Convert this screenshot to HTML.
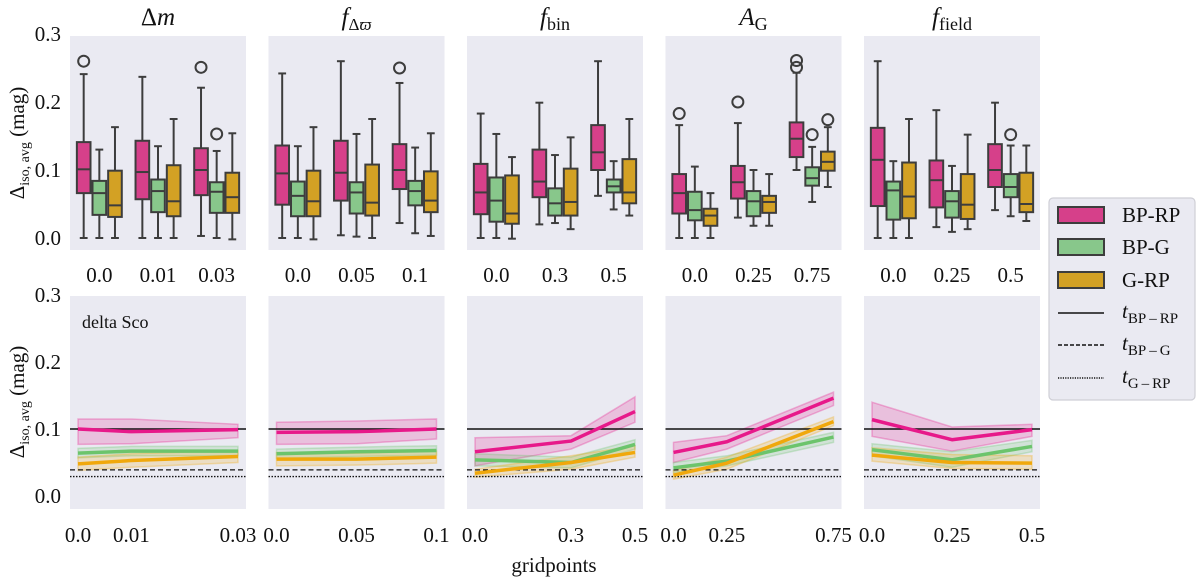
<!DOCTYPE html>
<html><head><meta charset="utf-8"><style>
html,body{margin:0;padding:0;background:#fff;}
svg{display:block;font-family:"Liberation Serif",serif;}
</style></head><body>
<svg id="chart" width="1200" height="580" viewBox="0 0 1200 580" xmlns="http://www.w3.org/2000/svg"></svg>
<script>
// ---- data ----
const seriesNames = ["BP-RP","BP-G","G-RP"];
const panelTitles = ["dm","fdp","fbin","ag","ffield"];
const boxCats = [["0.0","0.01","0.03"],["0.0","0.05","0.1"],["0.0","0.3","0.5"],["0.0","0.25","0.75"],["0.0","0.25","0.5"]];
// [low, q1, median, q3, high] per group per series
const boxDm = [[[0,0.066,0.101,0.141,0.241],[0,0.034,0.066,0.084,0.13],[0,0.031,0.048,0.099,0.163]],
               [[0,0.057,0.097,0.143,0.237],[0,0.038,0.069,0.086,0.135],[0,0.032,0.054,0.107,0.175]],
               [[0.003,0.063,0.1,0.132,0.221],[0,0.037,0.068,0.082,0.128],[-0.002,0.037,0.06,0.096,0.154]]];
const boxFdp = [[[0,0.049,0.095,0.136,0.242],[0,0.032,0.062,0.083,0.135],[-0.002,0.032,0.054,0.099,0.163]],
                [[0.004,0.055,0.096,0.143,0.26],[0.002,0.036,0.067,0.082,0.153],[0,0.033,0.052,0.108,0.175]],
                [[0.022,0.072,0.1,0.138,0.228],[0.007,0.048,0.069,0.084,0.133],[0.003,0.038,0.055,0.098,0.154]]];
const boxFbin = [[[0,0.035,0.067,0.109,0.183],[0,0.024,0.055,0.089,0.153],[-0.001,0.021,0.036,0.092,0.119]],
                 [[0.02,0.06,0.083,0.13,0.199],[0.022,0.033,0.051,0.073,0.122],[0.013,0.033,0.053,0.102,0.148]],
                 [[0.062,0.1,0.126,0.166,0.26],[0.042,0.067,0.076,0.086,0.113],[0.033,0.051,0.067,0.116,0.175]]];
const boxAg = [[[0,0.036,0.066,0.094,0.166],[0,0.026,0.041,0.068,0.105],[0,0.018,0.033,0.043,0.066]],
               [[0.03,0.058,0.082,0.106,0.169],[0.018,0.032,0.054,0.069,0.1],[0.018,0.037,0.053,0.062,0.094]],
               [[0.1,0.119,0.146,0.17,0.243],[0.053,0.077,0.088,0.104,0.134],[0.075,0.099,0.112,0.127,0.163]]];
const boxFfield = [[[0,0.047,0.115,0.162,0.26],[0,0.027,0.07,0.083,0.113],[0,0.029,0.061,0.111,0.175]],
                   [[0.016,0.045,0.085,0.114,0.188],[0.009,0.03,0.054,0.069,0.106],[0.013,0.028,0.049,0.094,0.152]],
                   [[0.041,0.075,0.1,0.138,0.199],[0.032,0.06,0.075,0.094,0.136],[0.025,0.038,0.05,0.096,0.136]]];
// outliers: [panel, group, series, value]
const outliers = [[0,0,0,0.26],[0,2,0,0.251],[0,2,1,0.153],[1,2,0,0.25],[3,0,0,0.183],[3,1,0,0.2],
                  [3,2,0,0.251],[3,2,0,0.261],[3,2,1,0.152],[3,2,2,0.174],[4,2,1,0.152]];
// bottom line panels
const lineX = [[0,0.01,0.03],[0,0.05,0.1],[0,0.3,0.5],[0,0.25,0.75],[0,0.25,0.5]];
const lineBPRP = [[0.1,0.096,0.099],[0.095,0.096,0.1],[0.066,0.082,0.126],[0.065,0.081,0.146],[0.114,0.084,0.099]];
const lineBPG  = [[0.064,0.067,0.067],[0.063,0.066,0.068],[0.054,0.05,0.077],[0.042,0.052,0.088],[0.069,0.054,0.074]];
const lineGRP  = [[0.048,0.053,0.059],[0.055,0.055,0.058],[0.034,0.05,0.065],[0.031,0.049,0.111],[0.061,0.05,0.049]];
const bandBPRPlo = [[0.077,0.078,0.087],[0.077,0.078,0.085],[0.045,0.07,0.11],[0.05,0.07,0.135],[0.089,0.067,0.089]];
const bandBPRPhi = [[0.115,0.115,0.107],[0.11,0.112,0.115],[0.087,0.09,0.148],[0.08,0.09,0.155],[0.14,0.103,0.107]];
const bandBPGlo = [[0.057,0.06,0.06],[0.056,0.059,0.061],[0.045,0.042,0.07],[0.035,0.045,0.08],[0.06,0.043,0.066]];
const bandBPGhi = [[0.071,0.074,0.074],[0.07,0.073,0.075],[0.063,0.058,0.084],[0.05,0.06,0.095],[0.078,0.066,0.083]];
const bandGRPlo = [[0.038,0.043,0.05],[0.045,0.046,0.049],[0.028,0.04,0.058],[0.025,0.04,0.105],[0.052,0.041,0.04]];
const bandGRPhi = [[0.058,0.063,0.068],[0.065,0.064,0.067],[0.04,0.06,0.075],[0.038,0.058,0.118],[0.072,0.062,0.06]];
const thresholds = [0.1,0.039,0.029];
const yTicks = [0.0,0.1,0.2,0.3];

// ---- layout ----
const NS="http://www.w3.org/2000/svg";
const svg=document.getElementById('chart');
const boxFill=["#d6408a","#88c78b","#d3a124"];
const lineCol=["#e7198a","#6cc46c","#f0a80c"];
const P_X0=70, P_PITCH=198.5, P_W=176;
const TOP={y0:36,y1:250,zero:238,scale:680};
const BOT={y0:296,y1:509,zero:496,scale:670};
const FS=21;
function mk(tag,attrs,parent){const e=document.createElementNS(NS,tag);for(const k in attrs)e.setAttribute(k,attrs[k]);(parent||svg).appendChild(e);return e;}
function yTop(v){return TOP.zero-v*TOP.scale;}
function yBot(v){return BOT.zero-v*BOT.scale;}
const boxData=[boxDm,boxFdp,boxFbin,boxAg,boxFfield];

const titles=[
 '<tspan>Δ</tspan><tspan font-style="italic">m</tspan>',
 '<tspan font-style="italic">f</tspan><tspan font-size="17" dy="5">Δ</tspan><tspan font-size="17" font-style="italic">ϖ</tspan>',
 '<tspan font-style="italic">f</tspan><tspan font-size="18" dy="5">bin</tspan>',
 '<tspan font-style="italic">A</tspan><tspan font-size="18" dy="5">G</tspan>',
 '<tspan font-style="italic">f</tspan><tspan font-size="18" dy="5">field</tspan>'];

for(let p=0;p<5;p++){
  const x0=P_X0+p*P_PITCH;
  const bgT=mk('rect',{x:x0,y:TOP.y0,width:P_W,height:TOP.y1-TOP.y0,fill:"#eaeaf2"});
  
  
  const t=mk('text',{x:x0+P_W/2,y:25,'text-anchor':'middle','font-size':25,fill:'#111'});
  t.innerHTML=titles[p];
  
  
  const catW=P_W/3, bw=catW*0.8/3;
  for(let g=0;g<3;g++){
    const cx=x0+catW*(g+0.5);
    const lab=mk('text',{x:cx,y:282,'text-anchor':'middle','font-size':FS,fill:'#111'});
    lab.textContent=boxCats[p][g];
    
    
    for(let s=0;s<3;s++){
      const st=boxData[p][g][s];
      const bx=cx+(s-1)*bw;
      const grp=mk('g',{});
      
      
      mk('line',{x1:bx,x2:bx,y1:yTop(st[0]),y2:yTop(st[1]),stroke:'#3d3d3d','stroke-width':2},grp);
      mk('line',{x1:bx,x2:bx,y1:yTop(st[3]),y2:yTop(st[4]),stroke:'#3d3d3d','stroke-width':2},grp);
      mk('line',{x1:bx-bw/4,x2:bx+bw/4,y1:yTop(st[0]),y2:yTop(st[0]),stroke:'#3d3d3d','stroke-width':2},grp);
      mk('line',{x1:bx-bw/4,x2:bx+bw/4,y1:yTop(st[4]),y2:yTop(st[4]),stroke:'#3d3d3d','stroke-width':2},grp);
      mk('rect',{x:bx-bw/2+1,y:yTop(st[3]),width:bw-2,height:yTop(st[1])-yTop(st[3]),fill:boxFill[s],stroke:'#3d3d3d','stroke-width':2},grp);
      mk('line',{x1:bx-bw/2+1,x2:bx+bw/2-1,y1:yTop(st[2]),y2:yTop(st[2]),stroke:'#3d3d3d','stroke-width':2},grp);
    }
  }
  const bgB=mk('rect',{x:x0,y:BOT.y0,width:P_W,height:BOT.y1-BOT.y0,fill:"#eaeaf2"});
  
  
  const xs=lineX[p], xmin=xs[0], xmax=xs[xs.length-1], pad=(xmax-xmin)*0.05;
  const xf=v=>x0+(v-(xmin-pad))/((xmax+pad)-(xmin-pad))*P_W;
  xs.forEach((v,i)=>{
    const lab=mk('text',{x:xf(v),y:542,'text-anchor':'middle','font-size':FS,fill:'#111'});
    lab.textContent=boxCats[p][i];
    
    
  });
  const lines=[lineBPRP,lineBPG,lineGRP], los=[bandBPRPlo,bandBPGlo,bandGRPlo], his=[bandBPRPhi,bandBPGhi,bandGRPhi];
  for(let s=0;s<3;s++){
    let d='';
    xs.forEach((v,i)=>{d+=(i?'L':'M')+xf(v)+' '+yBot(his[s][p][i]);});
    for(let i=xs.length-1;i>=0;i--) d+='L'+xf(xs[i])+' '+yBot(los[s][p][i]);
    const band=mk('path',{d:d+'Z',fill:lineCol[s],'fill-opacity':0.2,stroke:lineCol[s],'stroke-opacity':0.3,'stroke-width':1.5});
    
    
  }
  const dashes=['none','5,3','1.5,1.5'];
  thresholds.forEach((v,i)=>{
    const l=mk('line',{x1:x0,x2:x0+P_W,y1:yBot(v),y2:yBot(v),stroke:'#111','stroke-width':i==0?1.5:1.3,'stroke-dasharray':dashes[i]});
    
    
  });
  for(let s=0;s<3;s++){
    const pts=xs.map((v,i)=>xf(v)+','+yBot(lines[s][p][i])).join(' ');
    const pl=mk('polyline',{points:pts,fill:'none',stroke:lineCol[s],'stroke-width':3.5,'stroke-linejoin':'round'});
    
    
  }
}
outliers.forEach(o=>{
  const [p,g,s,v]=o;
  const x0=P_X0+p*P_PITCH, catW=P_W/3, bw=catW*0.8/3;
  const c=mk('circle',{cx:x0+catW*(g+0.5)+(s-1)*bw,cy:yTop(v),r:5.5,fill:'none',stroke:'#3d3d3d','stroke-width':2});
  
  
});
yTicks.forEach(v=>{
  const a=mk('text',{x:61,y:yTop(v)+7,'text-anchor':'end','font-size':FS,fill:'#111'});a.textContent=v.toFixed(1);
  
  
  const b=mk('text',{x:61,y:yBot(v)+7,'text-anchor':'end','font-size':FS,fill:'#111'});b.textContent=v.toFixed(1);
  
  
});
[143,402].forEach(cy=>{
  const t=mk('text',{transform:'translate(24,'+cy+') rotate(-90)','text-anchor':'middle','font-size':21,fill:'#111'});
  t.innerHTML='Δ<tspan font-size="14" dy="5">iso, avg</tspan><tspan dy="-5"> (mag)</tspan>';
  
  
});
const ds=mk('text',{x:82,y:328,'font-size':18,fill:'#111'});ds.textContent='delta Sco';


const gx=mk('text',{x:554,y:572,'text-anchor':'middle','font-size':FS,fill:'#111'});gx.textContent='gridpoints';


const lg=mk('g',{});


mk('rect',{x:1049,y:198,width:146,height:202,rx:4,fill:'#eaeaf2',stroke:'#cfcfd6','stroke-width':1.2},lg);
const legY=[215,247,280,313,345,378];
for(let s=0;s<3;s++){
  const e=mk('g',{},lg);
  
  
  mk('rect',{x:1058,y:legY[s]-8,width:46,height:16,fill:boxFill[s],stroke:'#3d3d3d','stroke-width':2},e);
  const tx=mk('text',{x:1122,y:legY[s]+7,'font-size':21,fill:'#111'},e);tx.textContent=seriesNames[s];
}
const tl=['BP\u2009\u2013\u2009RP','BP\u2009\u2013\u2009G','G\u2009\u2013\u2009RP'];
const dashesL=['none','4,2','1.2,1.2'];
for(let i=0;i<3;i++){
  const e=mk('g',{},lg);
  
  
  mk('line',{x1:1058,x2:1104,y1:legY[3+i],y2:legY[3+i],stroke:'#111','stroke-width':1.4,'stroke-dasharray':dashesL[i]},e);
  const tx=mk('text',{x:1122,y:legY[3+i]+5,'font-size':21,fill:'#111'},e);
  tx.innerHTML='<tspan font-style="italic">t</tspan><tspan font-size="15" dy="5">'+tl[i]+'</tspan>';
}
</script>
</body></html>
